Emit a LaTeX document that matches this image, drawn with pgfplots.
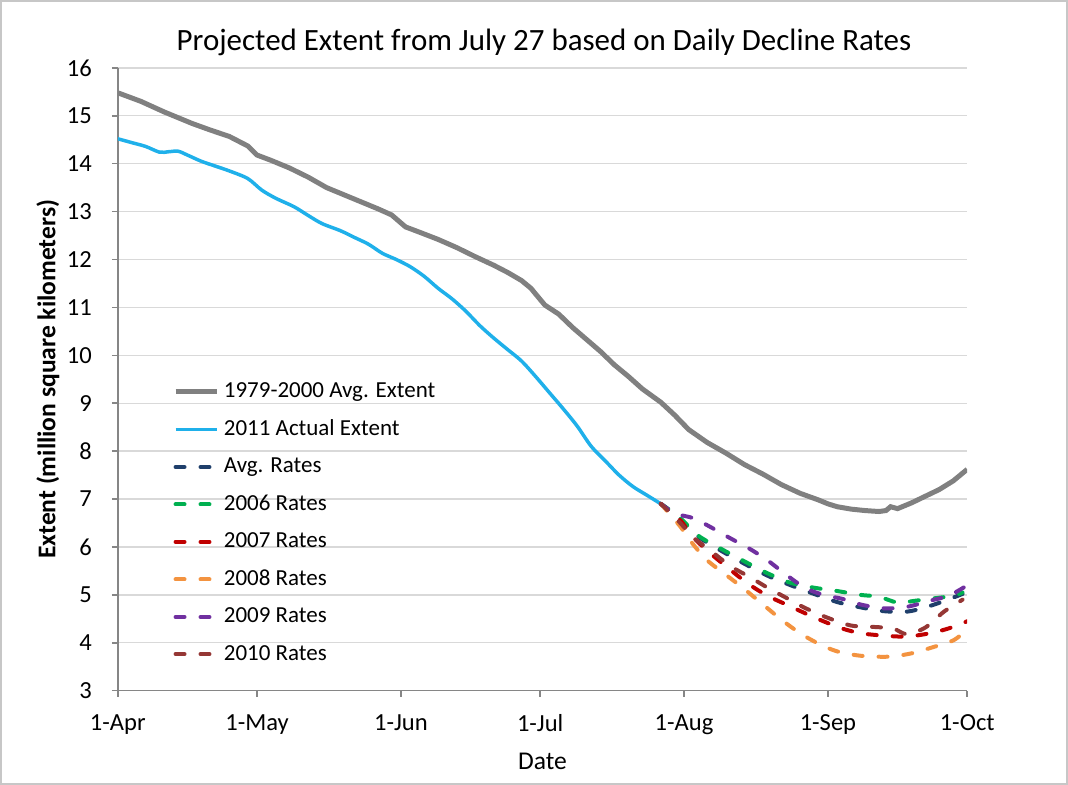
\documentclass[border=0pt]{standalone}
\usepackage{fontspec}
\setmainfont{Carlito}
\usepackage{pgfplots}
\pgfplotsset{compat=1.18}
\definecolor{axisgray}{HTML}{868686}
\definecolor{gridgray}{HTML}{D9D9D9}
\definecolor{avggray}{HTML}{808080}
\definecolor{actblue}{HTML}{1FB0EA}
\definecolor{cavg}{HTML}{1F3F6B}
\definecolor{c2006}{HTML}{00B050}
\definecolor{c2007}{HTML}{C00000}
\definecolor{c2008}{HTML}{F39340}
\definecolor{c2009}{HTML}{7030A0}
\definecolor{c2010}{HTML}{953735}

\begin{document}
\begin{tikzpicture}
\draw[color=black!22, line width=1pt] (0,0) rectangle (534pt,392pt);
\begin{axis}[
  at={(58.5pt,46.5pt)}, anchor=south west,
  scale only axis, width=425.5pt, height=312pt,
  xmin=0, xmax=183, ymin=3, ymax=16,
  xtick={0,30,61,91,122,153,183},
  xticklabels={1-Apr,1-May,1-Jun,1-Jul,1-Aug,1-Sep,1-Oct},
  ytick={3,4,...,16},
  axis lines*=left,
  ymajorgrids, grid style={draw=gridgray, line width=0.7pt},
  tick align=outside, major tick length=3pt,
  tick style={draw=axisgray, line width=0.75pt},
  axis line style={draw=axisgray, line width=0.75pt},
  /pgf/number format/assume math mode=true,
  tick label style={font=\fontsize{12.3}{14}\selectfont},
  xticklabel style={yshift=-5.5pt},
  yticklabel style={xshift=-6.5pt},
  xlabel={Date},
  ylabel={\bfseries Extent (million square kilometers)},
  label style={font=\fontsize{12.8}{15}\selectfont},
  xlabel style={at={(axis description cs:0.5,-0.1138)}, anchor=center},
  ylabel style={at={(axis description cs:-0.0823,0.5)}, anchor=center},
  legend style={at={(0.0646,0.5014)}, anchor=north west, draw=none, fill=none,
    font=\fontsize{11.5}{13}\selectfont, row sep=5.65pt, inner sep=0pt},
  legend cell align=left,
  legend image code/.code={\draw[#1] (0pt,0pt) -- (21pt,0pt);},
  rate/.style={line width=2pt, dash pattern=on 4.5pt off 8pt, line cap=round},
]
\addplot[draw=avggray, line width=2.5pt] coordinates {
(0,15.48) (5,15.30) (10,15.08) (16,14.84) (20,14.70) (24,14.57) (28,14.37) (30,14.18)
(33,14.07) (37,13.91) (41,13.72) (45,13.50) (49,13.34) (53,13.18) (56,13.06) (59,12.93)
(62,12.68) (65,12.57) (69,12.42) (73,12.25) (77,12.06) (81,11.88) (84,11.73) (87,11.56)
(89,11.40) (92,11.05) (95,10.86) (98,10.58) (101,10.33) (104,10.08) (107,9.80) (110,9.56)
(113,9.30) (117,9.02) (120,8.75) (123,8.45) (127,8.18) (131,7.96) (135,7.72) (139,7.52)
(143,7.30) (147,7.12) (151,6.98) (153,6.90) (155,6.84) (158,6.79) (161,6.76) (164,6.74)
(165.5,6.76) (166.5,6.84) (168,6.80) (171,6.92) (174,7.06) (177,7.20) (180,7.38) (183,7.62)
};
\addlegendentry{1979-2000 Avg. Extent}
\addplot[draw=actblue, line width=1.75pt, smooth] coordinates {
(0,14.52) (3,14.44) (6,14.36) (9,14.24) (11,14.25) (13,14.26) (15,14.18) (18,14.05)
(21,13.95) (24,13.85) (28,13.69) (31,13.45) (34,13.28) (38,13.10) (41,12.92) (44,12.75)
(48,12.60) (51,12.46) (54,12.32) (57,12.13) (60,12.00) (63,11.85) (66,11.65) (69,11.40)
(72,11.18) (75,10.92) (78,10.62) (81,10.36) (84,10.12) (87,9.88) (90,9.56) (93,9.22)
(96,8.88) (99,8.52) (102,8.10) (105,7.80) (108,7.50) (111,7.26) (114,7.08) (117,6.90)
};
\addlegendentry{2011 Actual Extent}
\addplot[draw=cavg, rate, smooth] coordinates {
(117,6.90) (121,6.60) (125,6.22) (130,5.92) (135,5.65) (140,5.40) (145,5.20) (150,5.02)
(155,4.85) (160,4.74) (165,4.66) (170,4.65) (174,4.74) (178,4.87) (182,5.02)
};
\addlegendentry{Avg. Rates}
\addplot[draw=c2006, rate, smooth] coordinates {
(117,6.90) (121,6.62) (125,6.24) (130,5.96) (135,5.70) (140,5.45) (145,5.25) (150,5.15)
(155,5.08) (160,5.00) (164,4.96) (168,4.84) (172,4.88) (176,4.93) (180,4.98) (182,5.05)
};
\addlegendentry{2006 Rates}
\addplot[draw=c2007, rate, smooth] coordinates {
(117,6.90) (121,6.58) (124,6.20) (128,5.84) (132,5.52) (136,5.22) (140,4.98) (144,4.80)
(148,4.62) (152,4.45) (156,4.30) (160,4.20) (165,4.15) (170,4.13) (175,4.20) (179,4.30)
(183,4.45)
};
\addlegendentry{2007 Rates}
\addplot[draw=c2008, rate, smooth] coordinates {
(117,6.90) (121,6.45) (124,6.05) (127,5.72) (131,5.42) (135,5.12) (139,4.80) (143,4.48)
(147,4.20) (151,3.98) (155,3.82) (160,3.73) (166,3.71) (171,3.78) (176,3.92) (180,4.05)
(183,4.27)
};
\addlegendentry{2008 Rates}
\addplot[draw=c2009, rate, smooth] coordinates {
(117,6.90) (120,6.70) (124,6.60) (128,6.40) (132,6.18) (136,5.97) (140,5.72) (144,5.42)
(148,5.15) (152,5.00) (156,4.92) (160,4.80) (165,4.72) (170,4.75) (175,4.88) (179,4.98)
(183,5.20)
};
\addlegendentry{2009 Rates}
\addplot[draw=c2010, rate, smooth] coordinates {
(117,6.90) (121,6.52) (124,6.20) (128,5.90) (132,5.60) (136,5.38) (140,5.15) (144,4.94)
(148,4.73) (153,4.52) (158,4.36) (163,4.33) (167,4.30) (170,4.18) (174,4.32) (178,4.65)
(182,4.90)
};
\addlegendentry{2010 Rates}
\end{axis}
\node[font=\fontsize{15.5}{18}\selectfont] at (272pt,371pt) {Projected Extent from July 27 based on Daily Decline Rates};
\end{tikzpicture}
\end{document}
